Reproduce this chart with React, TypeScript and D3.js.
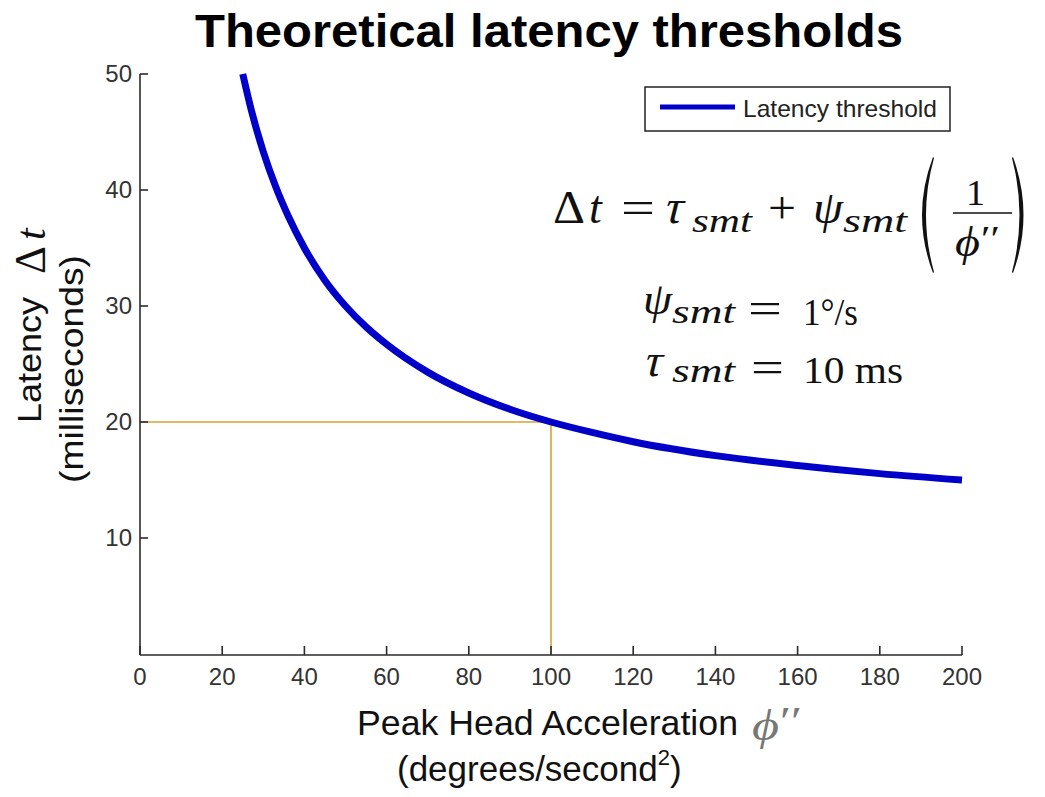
import React from "react";
import * as d3 from "d3";

const accel = [25, 27, 30, 33, 36, 40, 45, 50, 55, 60, 70, 80, 90, 100, 110, 120, 140, 160, 180, 200];
const latency = [50, 47, 43.3, 40.3, 37.8, 35, 32.2, 30, 28.2, 26.7, 24.3, 22.5, 21.1, 20, 19.1, 18.3, 17.1, 16.25, 15.55, 15];
const xTicks = [0, 20, 40, 60, 80, 100, 120, 140, 160, 180, 200];
const yTicks = [10, 20, 30, 40, 50];
const refX = 100;
const refY = 20;

const W = 1045;
const H = 797;

export default function App() {
  const x = d3.scaleLinear().domain([0, 200]).range([140, 962]);
  const y = d3.scaleLinear().domain([0, 50]).range([654, 74]);
  const pts = accel.map((a, i) => [a, latency[i]] as [number, number]);
  const line = d3
    .line<[number, number]>()
    .x((d) => x(d[0]))
    .y((d) => y(d[1]))
    .curve(d3.curveMonotoneX);

  const axisColor = "#2a2a2a";
  const sans = "Arial, 'Liberation Sans', Helvetica, sans-serif";
  const serif = "'Liberation Serif', 'DejaVu Serif', 'Times New Roman', serif";
  const x0 = x(0);
  const yBase = 655;

  const lparen = (xl: number, xr: number, top: number, bot: number) => {
    const mid = (top + bot) / 2;
    return `M${xr},${top} Q${xl - 4},${mid} ${xr},${bot} L${xr + 1},${bot - 1} Q${xl + 3},${mid} ${xr + 1},${top + 1} Z`;
  };
  const rparen = (xl: number, xr: number, top: number, bot: number) => {
    const mid = (top + bot) / 2;
    return `M${xl},${top} Q${xr + 4},${mid} ${xl},${bot} L${xl - 1},${bot - 1} Q${xr - 3},${mid} ${xl - 1},${top + 1} Z`;
  };

  const tau = (tx: number, ty: number, size: number) => (
    <text transform={`translate(${tx},${ty}) skewX(-14)`} fontSize={size} fontFamily={serif}>
      τ
    </text>
  );

  return (
    <svg
      width={W}
      height={H}
      style={{ position: "absolute", left: 0, top: 0, background: "#fff" }}
      xmlns="http://www.w3.org/2000/svg"
    >
      <rect x={0} y={0} width={W} height={H} fill="#fff" />
      <text
        x={195}
        y={47}
        fontFamily={sans}
        fontWeight="bold"
        fontSize={46}
        textLength={708}
        lengthAdjust="spacingAndGlyphs"
        fill="#000"
      >
        Theoretical latency thresholds
      </text>

      <line x1={x0} x2={x(refX)} y1={y(refY)} y2={y(refY)} stroke="#d6a534" strokeWidth={1.6} />
      <line x1={x(refX)} x2={x(refX)} y1={y(refY)} y2={yBase} stroke="#d6a534" strokeWidth={1.6} />

      <line x1={x0} x2={x0} y1={74} y2={yBase} stroke={axisColor} strokeWidth={1.6} />
      <line x1={x0} x2={x(200)} y1={yBase} y2={yBase} stroke={axisColor} strokeWidth={1.6} />
      {xTicks.map((t) => (
        <g key={"xt" + t}>
          <line x1={x(t)} x2={x(t)} y1={yBase} y2={yBase - 9} stroke={axisColor} strokeWidth={1.6} />
          <text x={x(t)} y={685} textAnchor="middle" fontFamily={sans} fontSize={24} fill="#333">
            {t}
          </text>
        </g>
      ))}
      {yTicks.map((t) => (
        <g key={"yt" + t}>
          <line x1={x0} x2={x0 + 8} y1={y(t)} y2={y(t)} stroke={axisColor} strokeWidth={1.6} />
          <text x={132} y={y(t) + 8} textAnchor="end" fontFamily={sans} fontSize={24} fill="#333">
            {t}
          </text>
        </g>
      ))}

      <path d={line(pts) || ""} fill="none" stroke="#0000c8" strokeWidth={7} strokeLinejoin="round" />

      <rect x={645} y={87} width={305} height={44} fill="#fff" stroke="#222" strokeWidth={1.5} />
      <line x1={660} x2={735} y1={107} y2={107} stroke="#0000c8" strokeWidth={5} />
      <text
        x={743}
        y={117}
        fontFamily={sans}
        fontSize={24}
        textLength={194}
        lengthAdjust="spacingAndGlyphs"
        fill="#222"
      >
        Latency threshold
      </text>

      <g fill="#111" fontFamily={serif}>
        <text x={553} y={223} fontSize={46} textLength={32} lengthAdjust="spacingAndGlyphs">Δ</text>
        <text x={589} y={223} fontSize={46} fontStyle="italic">t</text>
        <text x={621} y={223} fontSize={46} textLength={34} lengthAdjust="spacingAndGlyphs">=</text>
        {tau(662, 223, 48)}
        <text x={692} y={232} fontSize={33} fontStyle="italic" textLength={60} lengthAdjust="spacingAndGlyphs">smt</text>
        <text x={768} y={223} fontSize={46} textLength={28} lengthAdjust="spacingAndGlyphs">+</text>
        <text x={813} y={223} fontSize={46} fontStyle="italic" textLength={30} lengthAdjust="spacingAndGlyphs">ψ</text>
        <text x={843} y={232} fontSize={33} fontStyle="italic" textLength={64} lengthAdjust="spacingAndGlyphs">smt</text>
        <path d={lparen(915, 933, 157, 273)} fill="#111" />
        <text x={966} y={205} fontSize={36} textLength={19} lengthAdjust="spacingAndGlyphs">1</text>
        <line x1={953} x2={1012} y1={213} y2={213} stroke="#111" strokeWidth={1.6} />
        <text x={955} y={256} fontSize={42} fontStyle="italic" textLength={25} lengthAdjust="spacingAndGlyphs">ϕ</text>
        <text x={981} y={251} fontSize={36} textLength={19} lengthAdjust="spacingAndGlyphs">′′</text>
        <path d={rparen(1013, 1030, 157, 273)} fill="#111" />
      </g>

      <g fill="#111" fontFamily={serif}>
        <text x={643} y={314} fontSize={44} fontStyle="italic" textLength={29} lengthAdjust="spacingAndGlyphs">ψ</text>
        <text x={672} y={323} fontSize={33} fontStyle="italic" textLength={63} lengthAdjust="spacingAndGlyphs">smt</text>
        <text x={748} y={323} fontSize={44} textLength={34} lengthAdjust="spacingAndGlyphs">=</text>
        <text x={803} y={325} fontSize={38} textLength={55} lengthAdjust="spacingAndGlyphs">1°/s</text>

        {tau(642, 376, 46)}
        <text x={672} y={382} fontSize={33} fontStyle="italic" textLength={63} lengthAdjust="spacingAndGlyphs">smt</text>
        <text x={751} y={382} fontSize={44} textLength={33} lengthAdjust="spacingAndGlyphs">=</text>
        <text x={803} y={383} fontSize={38} textLength={100} lengthAdjust="spacingAndGlyphs">10 ms</text>
      </g>

      <text
        x={357}
        y={735}
        fontFamily={sans}
        fontSize={35}
        textLength={381}
        lengthAdjust="spacingAndGlyphs"
        fill="#111"
      >
        Peak Head Acceleration
      </text>
      <text x={752} y={740} fontFamily={serif} fontStyle="italic" fontSize={44} fill="#777" textLength={27} lengthAdjust="spacingAndGlyphs">
        ϕ
      </text>
      <text x={780} y={734} fontFamily={serif} fontSize={40} fill="#777" textLength={22} lengthAdjust="spacingAndGlyphs">
        ′′
      </text>
      <text x={397} y={781} fontFamily={sans} fontSize={35} fill="#111">
        <tspan>(degrees/second</tspan>
        <tspan fontSize={22} dy={-16}>2</tspan>
        <tspan dy={16}>)</tspan>
      </text>

      <text
        transform="translate(41,423) rotate(-90)"
        fontFamily={sans}
        fontSize={34}
        textLength={126}
        lengthAdjust="spacingAndGlyphs"
        fill="#111"
      >
        Latency
      </text>
      <text transform="translate(45,274) rotate(-90)" fontFamily={serif} fontSize={44} fill="#111" textLength={28} lengthAdjust="spacingAndGlyphs">
        Δ
      </text>
      <text transform="translate(45,240) rotate(-90)" fontFamily={serif} fontStyle="italic" fontSize={42} fill="#111">
        t
      </text>
      <text
        transform="translate(83,369) rotate(-90)"
        textAnchor="middle"
        fontFamily={sans}
        fontSize={34}
        textLength={228}
        lengthAdjust="spacingAndGlyphs"
        fill="#111"
      >
        (milliseconds)
      </text>
    </svg>
  );
}
